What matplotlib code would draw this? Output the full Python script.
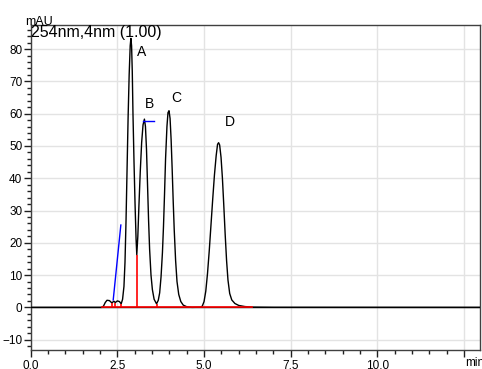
import matplotlib
matplotlib.use("Agg")
import matplotlib.pyplot as plt
from matplotlib.ticker import MultipleLocator, FixedLocator

plt.rcParams['font.family'] = ['Liberation Sans', 'DejaVu Sans']

# ---- data ----
trace_time = [0.0, 2.05, 2.10, 2.15, 2.20, 2.27, 2.34, 2.40, 2.44, 2.50, 2.56, 2.61,
              2.65, 2.69, 2.72, 2.75, 2.78, 2.81, 2.84, 2.87, 2.89, 2.91, 2.93, 2.95,
              2.98, 3.01, 3.04, 3.06,
              3.09, 3.12, 3.16, 3.20, 3.24, 3.28, 3.31, 3.34, 3.37, 3.40, 3.43, 3.47,
              3.51, 3.56, 3.63,
              3.68, 3.72, 3.76, 3.80, 3.83, 3.86, 3.89, 3.93, 3.96, 3.99, 4.02, 4.05,
              4.08, 4.11, 4.14, 4.18, 4.22, 4.27, 4.33, 4.40, 4.50, 4.65,
              4.90, 4.95, 5.00, 5.05, 5.10, 5.15, 5.20, 5.25, 5.30, 5.35, 5.39, 5.42,
              5.45, 5.49, 5.53, 5.57, 5.61, 5.65, 5.69, 5.74, 5.80, 5.89, 6.00, 6.18,
              6.40, 7.00, 13.0]
trace_mau = [0.0, 0.0, 0.4, 1.5, 2.2, 2.1, 1.4, 1.9, 1.5, 2.0, 1.8, 1.1,
             2.5, 6.5, 14.0, 27.0, 43.0, 59.0, 72.0, 81.0, 83.3, 81.0, 73.0, 60.0,
             45.0, 32.0, 21.0, 16.3,
             22.0, 31.0, 42.0, 51.0, 56.5, 58.3, 56.0, 49.0, 38.0, 27.0, 18.0, 10.0,
             5.5, 2.5, 1.1,
             2.2, 4.5, 9.5, 17.0, 25.0, 35.0, 46.0, 56.0, 60.3, 60.9, 58.5, 52.0,
             43.0, 33.0, 24.0, 14.5, 8.0, 4.0, 1.8, 0.7, 0.2, 0.0,
             0.05, 0.4, 1.8, 5.0, 10.5, 17.5, 25.5, 33.5, 41.0, 47.0, 50.5, 51.0,
             50.3, 46.5, 40.0, 31.5, 22.5, 14.5, 8.5, 4.3, 2.3, 1.2, 0.6, 0.25,
             0.08, 0.02, 0.0]

peak_names = ['A', 'B', 'C', 'D']
peak_times = [2.89, 3.28, 3.99, 5.42]
peak_heights = [83.3, 58.3, 60.9, 51.0]

# integration marks
baseline_start, baseline_end = 2.05, 6.38
drop_times = [2.34, 2.44, 2.61, 3.06, 3.63]
drop_heights = [1.4, 1.5, 1.1, 16.3, 1.1]
blue_slope_t = [2.38, 2.60]
blue_slope_y = [2.3, 25.5]
blue_flat_t = [3.25, 3.56]
blue_flat_y = [57.8, 57.8]

x_major = [0.0, 2.5, 5.0, 7.5, 10.0, 12.5]
x_labels = ['0.0', '2.5', '5.0', '7.5', '10.0', '']
y_major = [-10, 0, 10, 20, 30, 40, 50, 60, 70, 80]

# ---- figure ----
fig = plt.figure(figsize=(4.82, 3.69), dpi=100)
ax = fig.add_axes([30.7 / 482, 19 / 369, (480 - 30.7) / 482, (350 - 24.5) / 369])
ax.set_xlim(0, 12.96)
ax.set_ylim(-13.2, 87.6)

ax.xaxis.set_major_locator(FixedLocator(x_major))
ax.set_xticklabels(x_labels)
ax.xaxis.set_minor_locator(MultipleLocator(0.5))
ax.yaxis.set_major_locator(FixedLocator(y_major))
ax.yaxis.set_minor_locator(MultipleLocator(2))

ax.grid(True, which='major', color='#e3e3e3', lw=1.0, zorder=0)
ax.set_axisbelow(True)

for side in ['left', 'bottom', 'top', 'right']:
    ax.spines[side].set_color('#404040')
    ax.spines[side].set_linewidth(1.0)

ax.tick_params(axis='both', which='major', direction='out', length=5, width=1,
               color='#202020', labelsize=8.5, pad=1.5)
ax.tick_params(axis='both', which='minor', direction='out', length=3, width=1,
               color='#202020')
ax.tick_params(axis='x', pad=2.5)
ax.tick_params(axis='y', pad=1)

ax.axhline(0, color='black', lw=1.0, zorder=2)
ax.plot(trace_time, trace_mau, color='black', lw=1.0, zorder=3)

ax.plot([baseline_start, baseline_end], [0, 0], color='#ff0000', lw=1.2, zorder=4)
ax.vlines(drop_times, 0, drop_heights, color='#ff0000', lw=1.2, zorder=4)
ax.plot(blue_slope_t, blue_slope_y, color='#0000ff', lw=1.0, zorder=5)
ax.plot(blue_flat_t, blue_flat_y, color='#0000ff', lw=1.0, zorder=5)

label_pos = [(3.07, 77.9), (3.28, 61.8), (4.05, 63.6), (5.60, 56.3)]
for name, (lx, ly) in zip(peak_names, label_pos):
    ax.text(lx, ly, name, fontsize=10, ha='left', va='baseline', zorder=6)

fig.text(25 / 482, 1 - 25.3 / 369, 'mAU', fontsize=9, ha='left', va='baseline')
fig.text(31 / 482, 1 - 37.3 / 369, '254nm,4nm (1.00)', fontsize=11.5, ha='left', va='baseline')
fig.text(465 / 482, 1 - 366 / 369, 'min', fontsize=8.5, ha='left', va='baseline')

fig.savefig('out.png', dpi=100)
